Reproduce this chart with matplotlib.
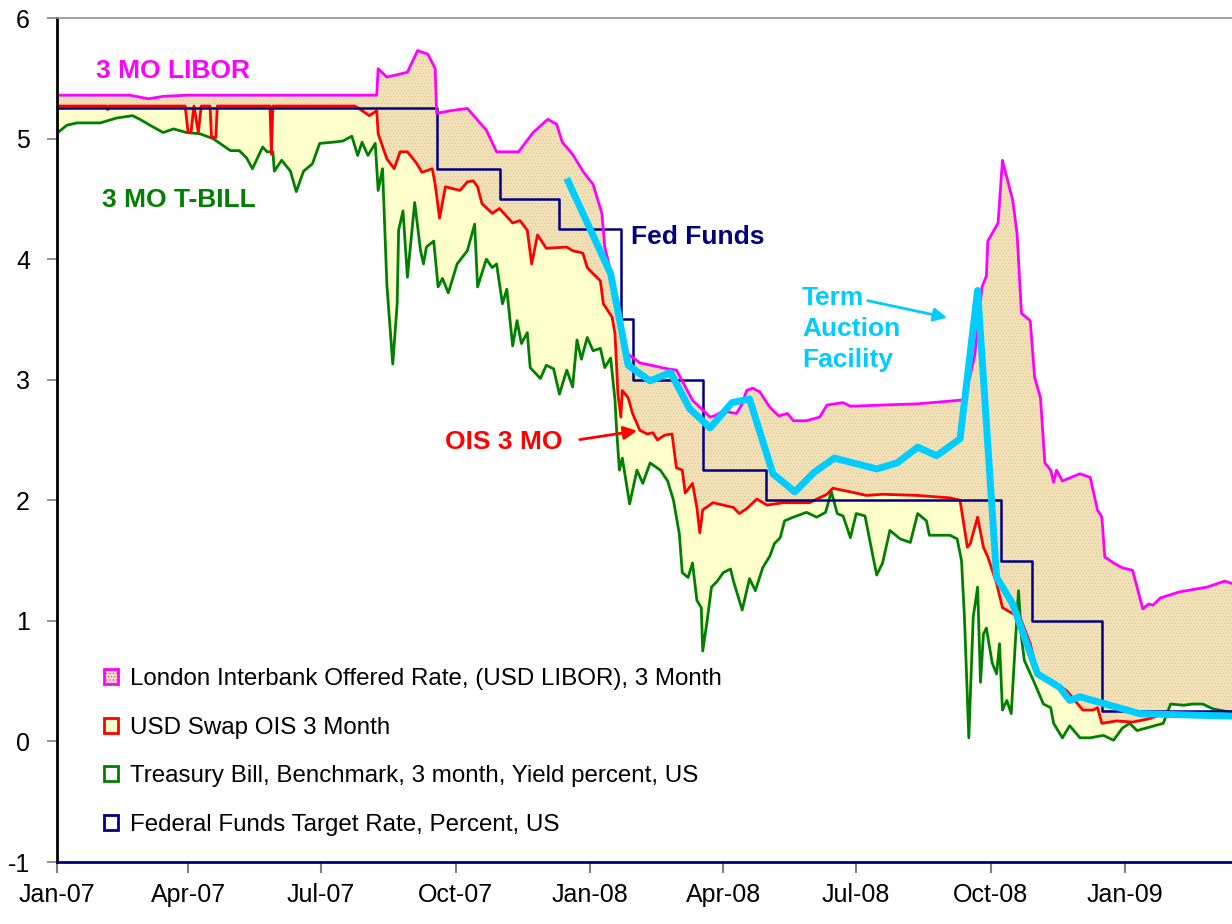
import matplotlib
matplotlib.use('Agg')
import matplotlib.pyplot as plt
import matplotlib.dates as mdates
from matplotlib.patches import Patch
import pandas as pd

plt.rcParams['font.family'] = ['Liberation Sans', 'DejaVu Sans']
plt.rcParams['hatch.linewidth'] = 0.4
plt.rcParams['axes.unicode_minus'] = False

# 3 month USD LIBOR
libor_dates = ['2007-01-01', '2007-02-20', '2007-03-05', '2007-03-15', '2007-04-01', '2007-08-08',
               '2007-08-09', '2007-08-15', '2007-08-29', '2007-09-05', '2007-09-12', '2007-09-17',
               '2007-09-18', '2007-09-27', '2007-10-09', '2007-10-22', '2007-10-29', '2007-11-13',
               '2007-11-23', '2007-12-03', '2007-12-09', '2007-12-13', '2007-12-20', '2007-12-27',
               '2008-01-03', '2008-01-09', '2008-01-11', '2008-01-16', '2008-01-21', '2008-01-26',
               '2008-02-04', '2008-02-23', '2008-02-29', '2008-03-11', '2008-03-23', '2008-03-26',
               '2008-04-01', '2008-04-10', '2008-04-14', '2008-04-17', '2008-04-21', '2008-04-26',
               '2008-05-03', '2008-05-09', '2008-05-15', '2008-05-19', '2008-05-28', '2008-06-06',
               '2008-06-11', '2008-06-22', '2008-06-27', '2008-07-19', '2008-08-12', '2008-09-10',
               '2008-09-13', '2008-09-20', '2008-09-25', '2008-09-28', '2008-09-29', '2008-10-06',
               '2008-10-09', '2008-10-16', '2008-10-19', '2008-10-22', '2008-10-28', '2008-10-31',
               '2008-11-04', '2008-11-07', '2008-11-11', '2008-11-13', '2008-11-15', '2008-11-19',
               '2008-12-01', '2008-12-08', '2008-12-13', '2008-12-16', '2008-12-18', '2008-12-24',
               '2008-12-30', '2009-01-06', '2009-01-11', '2009-01-13', '2009-01-17', '2009-01-20',
               '2009-01-25', '2009-02-07', '2009-02-26', '2009-03-10', '2009-03-15']
libor_vals = [5.36, 5.36, 5.33, 5.35, 5.36, 5.36,
              5.58, 5.51, 5.55, 5.73, 5.70, 5.58,
              5.21, 5.23, 5.25, 5.07, 4.89, 4.89,
              5.05, 5.16, 5.12, 4.97, 4.87, 4.73,
              4.62, 4.38, 4.10, 3.85, 3.59, 3.22,
              3.14, 3.09, 3.08, 2.83, 2.69, 2.70,
              2.74, 2.72, 2.80, 2.91, 2.93, 2.90,
              2.77, 2.70, 2.72, 2.66, 2.66, 2.69,
              2.79, 2.81, 2.78, 2.79, 2.80, 2.83,
              2.83, 3.20, 3.77, 3.86, 4.15, 4.30,
              4.82, 4.49, 4.21, 3.55, 3.49, 3.02,
              2.85, 2.31, 2.25, 2.15, 2.25, 2.16,
              2.22, 2.19, 1.92, 1.86, 1.53, 1.48,
              1.44, 1.42, 1.19, 1.10, 1.14, 1.13,
              1.19, 1.24, 1.28, 1.33, 1.31]

# USD swap OIS 3 month
ois_dates = ['2007-01-01', '2007-02-04', '2007-02-05', '2007-02-06', '2007-03-30', '2007-04-01',
             '2007-04-03', '2007-04-05', '2007-04-08', '2007-04-10', '2007-04-16', '2007-04-17',
             '2007-04-20', '2007-04-21', '2007-05-27', '2007-05-28', '2007-05-29', '2007-07-24',
             '2007-07-28', '2007-08-03', '2007-08-08', '2007-08-09', '2007-08-15', '2007-08-20',
             '2007-08-24', '2007-08-29', '2007-09-04', '2007-09-08', '2007-09-15', '2007-09-17',
             '2007-09-20', '2007-09-24', '2007-10-04', '2007-10-09', '2007-10-13', '2007-10-16',
             '2007-10-19', '2007-10-26', '2007-10-31', '2007-11-09', '2007-11-14', '2007-11-19',
             '2007-11-22', '2007-11-26', '2007-12-02', '2007-12-16', '2007-12-20', '2007-12-27',
             '2007-12-30', '2008-01-03', '2008-01-08', '2008-01-10', '2008-01-16', '2008-01-18',
             '2008-01-20', '2008-01-22', '2008-01-23', '2008-01-27', '2008-01-30', '2008-02-04',
             '2008-02-09', '2008-02-13', '2008-02-16', '2008-02-21', '2008-02-26', '2008-02-29',
             '2008-03-04', '2008-03-06', '2008-03-11', '2008-03-14', '2008-03-16', '2008-03-18',
             '2008-03-25', '2008-04-01', '2008-04-08', '2008-04-12', '2008-04-17', '2008-04-24',
             '2008-05-01', '2008-05-12', '2008-05-30', '2008-06-11', '2008-06-15', '2008-06-27',
             '2008-07-08', '2008-07-19', '2008-08-12', '2008-09-03', '2008-09-10', '2008-09-15',
             '2008-09-17', '2008-09-22', '2008-09-26', '2008-09-29', '2008-10-05', '2008-10-09',
             '2008-10-16', '2008-10-21', '2008-10-28', '2008-11-02', '2008-11-11', '2008-11-22',
             '2008-12-03', '2008-12-10', '2008-12-13', '2008-12-16', '2008-12-26', '2009-01-06',
             '2009-01-18', '2009-01-27', '2009-02-21', '2009-03-15']
ois_vals = [5.27, 5.27, 5.24, 5.27, 5.27, 5.05,
            5.05, 5.27, 5.05, 5.27, 5.27, 5.01,
            5.01, 5.27, 5.27, 4.87, 5.27, 5.27,
            5.24, 5.19, 5.23, 5.04, 4.83, 4.75,
            4.89, 4.89, 4.80, 4.72, 4.75, 4.62,
            4.34, 4.60, 4.57, 4.64, 4.65, 4.60,
            4.46, 4.38, 4.42, 4.30, 4.32, 4.24,
            3.96, 4.20, 4.09, 4.10, 4.07, 4.05,
            3.93, 3.88, 3.82, 3.63, 3.52, 3.38,
            2.88, 2.69, 2.91, 2.85, 2.72, 2.58,
            2.55, 2.56, 2.50, 2.54, 2.55, 2.27,
            2.25, 2.06, 2.14, 1.94, 1.73, 1.92,
            1.98, 1.96, 1.94, 1.89, 1.93, 2.01,
            1.96, 1.98, 1.98, 2.05, 2.10, 2.07,
            2.04, 2.05, 2.04, 2.02, 2.00, 1.61,
            1.64, 1.86, 1.61, 1.53, 1.31, 1.11,
            1.06, 1.03, 0.81, 0.56, 0.51, 0.42,
            0.26, 0.26, 0.28, 0.15, 0.17, 0.16,
            0.19, 0.23, 0.24, 0.22]

# 3 month treasury bill yield
tbill_dates = ['2007-01-01', '2007-01-08', '2007-01-15', '2007-01-31', '2007-02-11', '2007-02-22',
               '2007-02-27', '2007-03-06', '2007-03-15', '2007-03-22', '2007-03-31', '2007-04-09',
               '2007-04-18', '2007-04-30', '2007-05-06', '2007-05-11', '2007-05-15', '2007-05-22',
               '2007-05-25', '2007-05-29', '2007-05-30', '2007-06-04', '2007-06-10', '2007-06-14',
               '2007-06-19', '2007-06-25', '2007-06-30', '2007-07-09', '2007-07-16', '2007-07-22',
               '2007-07-26', '2007-07-29', '2007-08-02', '2007-08-07', '2007-08-09', '2007-08-12',
               '2007-08-15', '2007-08-19', '2007-08-22', '2007-08-23', '2007-08-26', '2007-08-29',
               '2007-09-03', '2007-09-07', '2007-09-09', '2007-09-11', '2007-09-16', '2007-09-19',
               '2007-09-22', '2007-09-26', '2007-10-02', '2007-10-09', '2007-10-14', '2007-10-16',
               '2007-10-22', '2007-10-26', '2007-10-29', '2007-11-02', '2007-11-05', '2007-11-09',
               '2007-11-12', '2007-11-15', '2007-11-19', '2007-11-21', '2007-11-28', '2007-12-02',
               '2007-12-07', '2007-12-11', '2007-12-16', '2007-12-20', '2007-12-23', '2007-12-26',
               '2007-12-30', '2008-01-03', '2008-01-08', '2008-01-11', '2008-01-15', '2008-01-18',
               '2008-01-19', '2008-01-21', '2008-01-23', '2008-01-28', '2008-02-02', '2008-02-06',
               '2008-02-11', '2008-02-18', '2008-02-23', '2008-02-27', '2008-03-02', '2008-03-04',
               '2008-03-08', '2008-03-11', '2008-03-14', '2008-03-17', '2008-03-18', '2008-03-21',
               '2008-03-24', '2008-03-28', '2008-04-01', '2008-04-06', '2008-04-08', '2008-04-14',
               '2008-04-19', '2008-04-23', '2008-04-28', '2008-05-03', '2008-05-06', '2008-05-10',
               '2008-05-13', '2008-05-19', '2008-05-28', '2008-06-04', '2008-06-10', '2008-06-14',
               '2008-06-18', '2008-06-22', '2008-06-27', '2008-07-01', '2008-07-07', '2008-07-12',
               '2008-07-15', '2008-07-19', '2008-07-24', '2008-07-31', '2008-08-07', '2008-08-12',
               '2008-08-18', '2008-08-20', '2008-09-03', '2008-09-08', '2008-09-11', '2008-09-13',
               '2008-09-16', '2008-09-19', '2008-09-22', '2008-09-24', '2008-09-26', '2008-09-28',
               '2008-10-02', '2008-10-05', '2008-10-07', '2008-10-09', '2008-10-12', '2008-10-15',
               '2008-10-18', '2008-10-20', '2008-10-22', '2008-10-24', '2008-10-30', '2008-11-06',
               '2008-11-11', '2008-11-13', '2008-11-19', '2008-11-24', '2008-12-01', '2008-12-08',
               '2008-12-17', '2008-12-24', '2008-12-30', '2009-01-04', '2009-01-09', '2009-01-18',
               '2009-01-27', '2009-02-01', '2009-02-10', '2009-02-16', '2009-02-23', '2009-03-02',
               '2009-03-15']
tbill_vals = [5.04, 5.11, 5.13, 5.13, 5.17, 5.19,
              5.16, 5.11, 5.05, 5.08, 5.05, 5.04,
              5.00, 4.90, 4.90, 4.84, 4.75, 4.93,
              4.89, 4.89, 4.73, 4.82, 4.73, 4.56,
              4.73, 4.79, 4.96, 4.97, 4.98, 5.02,
              4.86, 4.97, 4.86, 4.96, 4.57, 4.75,
              3.78, 3.13, 3.63, 4.24, 4.40, 3.85,
              4.47, 4.07, 3.96, 4.10, 4.15, 3.77,
              3.84, 3.72, 3.96, 4.07, 4.29, 3.77,
              4.00, 3.93, 3.96, 3.63, 3.75, 3.28,
              3.49, 3.30, 3.39, 3.10, 3.01, 3.12,
              3.09, 2.88, 3.08, 2.94, 3.33, 3.17,
              3.35, 3.24, 3.26, 3.10, 3.18, 2.83,
              2.60, 2.25, 2.35, 1.97, 2.25, 2.14,
              2.31, 2.25, 2.16, 2.00, 1.72, 1.40,
              1.36, 1.48, 1.17, 1.11, 0.75, 1.00,
              1.28, 1.33, 1.40, 1.43, 1.33, 1.09,
              1.35, 1.25, 1.44, 1.54, 1.64, 1.69,
              1.83, 1.86, 1.90, 1.86, 1.90, 2.07,
              1.89, 1.87, 1.69, 1.89, 1.87, 1.56,
              1.38, 1.48, 1.75, 1.68, 1.65, 1.89,
              1.83, 1.71, 1.71, 1.68, 1.50, 1.03,
              0.03, 1.03, 1.28, 0.49, 0.89, 0.94,
              0.65, 0.56, 0.81, 0.26, 0.34, 0.23,
              0.86, 1.25, 0.86, 0.67, 0.51, 0.31,
              0.28, 0.15, 0.03, 0.13, 0.03, 0.03,
              0.05, 0.01, 0.11, 0.15, 0.09, 0.12,
              0.15, 0.31, 0.30, 0.31, 0.31, 0.27,
              0.24]

# Federal funds target rate (change dates)
fed_dates = ['2007-01-01', '2007-09-18', '2007-10-31', '2007-12-11', '2008-01-22', '2008-01-30',
             '2008-03-18', '2008-04-30', '2008-10-08', '2008-10-29', '2008-12-16', '2009-03-15']
fed_vals = [5.25, 4.75, 4.50, 4.25, 3.50, 3.00,
            2.25, 2.00, 1.50, 1.00, 0.25, 0.25]

# Term Auction Facility stop-out rates
taf_dates = ['2007-12-16', '2008-01-15', '2008-01-27', '2008-02-11', '2008-02-25', '2008-03-09',
             '2008-03-23', '2008-04-07', '2008-04-19', '2008-05-05', '2008-05-20', '2008-06-02',
             '2008-06-16', '2008-07-15', '2008-07-29', '2008-08-12', '2008-08-25', '2008-09-10',
             '2008-09-22', '2008-10-05', '2008-10-16', '2008-11-02', '2008-11-17', '2008-11-24',
             '2008-12-01', '2009-01-11', '2009-03-15']
taf_vals = [4.67, 3.88, 3.12, 2.99, 3.06, 2.76,
            2.60, 2.81, 2.84, 2.22, 2.07, 2.23,
            2.35, 2.26, 2.31, 2.44, 2.37, 2.51,
            3.74, 1.36, 1.14, 0.56, 0.45, 0.34,
            0.37, 0.23, 0.21]

legend_labels = ['London Interbank Offered Rate, (USD LIBOR), 3 Month',
                 'USD Swap OIS 3 Month',
                 'Treasury Bill, Benchmark, 3 month, Yield percent, US',
                 'Federal Funds Target Rate, Percent, US']

libor_x = pd.to_datetime(libor_dates)
ois_x = pd.to_datetime(ois_dates)
tbill_x = pd.to_datetime(tbill_dates)
fed_x = pd.to_datetime(fed_dates)
taf_x = pd.to_datetime(taf_dates)

magenta = '#FF00FF'
red = '#FF0000'
green = '#008000'
navy = '#000080'
cyan = '#00CCFF'
tan = '#F2E0B6'
cream = '#FFFFCC'

fig = plt.figure(figsize=(12.32, 9.24), dpi=100)
ax = fig.add_axes([56.5 / 1232, 1 - 862 / 924, 1 - 56.5 / 1232, (862 - 18) / 924])

# stacked-looking areas
ax.fill_between(libor_x, 0, libor_vals, facecolor=tan, edgecolor='#DCC79C',
                hatch='.....', linewidth=0, zorder=1)
ax.fill_between(ois_x, 0, ois_vals, facecolor=cream, linewidth=0, zorder=2)
ax.fill_between(tbill_x, -1, tbill_vals, facecolor='white', linewidth=0, zorder=3)

ax.plot(tbill_x, tbill_vals, color=green, lw=2, zorder=4)
ax.plot(ois_x, ois_vals, color=red, lw=2, zorder=5)
ax.plot(fed_x, fed_vals, color=navy, lw=1.8, drawstyle='steps-post', zorder=6)
ax.plot(libor_x, libor_vals, color=magenta, lw=2, zorder=7)
ax.plot(taf_x, taf_vals, color=cyan, lw=5, solid_capstyle='butt', zorder=8)

ax.set_xlim(pd.Timestamp('2007-01-01'), pd.Timestamp('2009-03-15'))
ax.set_ylim(-1, 6)
ax.set_yticks(range(-1, 7))
ax.xaxis.set_major_locator(mdates.MonthLocator(bymonth=[1, 4, 7, 10]))
ax.xaxis.set_major_formatter(mdates.DateFormatter('%b-%y'))
ax.tick_params(axis='x', direction='out', length=8, width=1.5, color='#808080',
               labelsize=18, pad=7)
ax.tick_params(axis='y', direction='out', length=7, width=1.2, color='#808080',
               labelsize=18, pad=12)

ax.spines['right'].set_visible(False)
ax.spines['top'].set_color('#909090')
ax.spines['top'].set_linewidth(1.2)
ax.spines['left'].set_color('black')
ax.spines['left'].set_linewidth(2)
ax.spines['bottom'].set_color(navy)
ax.spines['bottom'].set_linewidth(2)
for sp in ax.spines.values():
    sp.set_zorder(10)

# series labels
bold = dict(fontsize=19, fontweight='bold', va='center', ha='left', zorder=12)
ax.text(pd.Timestamp('2007-01-28'), 5.56, '3 MO LIBOR', color=magenta, **bold)
ax.text(pd.Timestamp('2007-02-01'), 4.49, '3 MO T-BILL', color=green, **bold)
ax.text(pd.Timestamp('2008-01-29'), 4.18, 'Fed Funds', color=navy, **bold)
ax.text(pd.Timestamp('2008-05-25'), 3.42, 'Term\nAuction\nFacility', color=cyan,
        linespacing=1.36, **bold)
ax.text(pd.Timestamp('2007-09-24'), 2.48, 'OIS 3 MO', color=red, **bold)

ax.annotate('', xy=(pd.Timestamp('2008-09-03'), 3.51), xytext=(pd.Timestamp('2008-07-07'), 3.66),
            arrowprops=dict(arrowstyle='-|>', color=cyan, lw=2, mutation_scale=20), zorder=12)
ax.annotate('', xy=(pd.Timestamp('2008-02-04'), 2.58), xytext=(pd.Timestamp('2007-12-23'), 2.50),
            arrowprops=dict(arrowstyle='-|>', color=red, lw=2, mutation_scale=20), zorder=12)

handles = [Patch(facecolor=tan, edgecolor=magenta, hatch='.....', linewidth=2),
           Patch(facecolor=cream, edgecolor=red, linewidth=2),
           Patch(facecolor='white', edgecolor=green, linewidth=2),
           Patch(facecolor='white', edgecolor=navy, linewidth=2)]
leg = ax.legend(handles, legend_labels, loc='upper left',
                bbox_to_anchor=(104 / 1232, 1 - 668 / 924), bbox_transform=fig.transFigure,
                frameon=False, fontsize=17.4, handlelength=0.58, handleheight=0.58,
                handletextpad=0.5, labelspacing=1.1, borderpad=0, borderaxespad=0)
leg.set_zorder(12)

fig.savefig('out.png', dpi=100)
